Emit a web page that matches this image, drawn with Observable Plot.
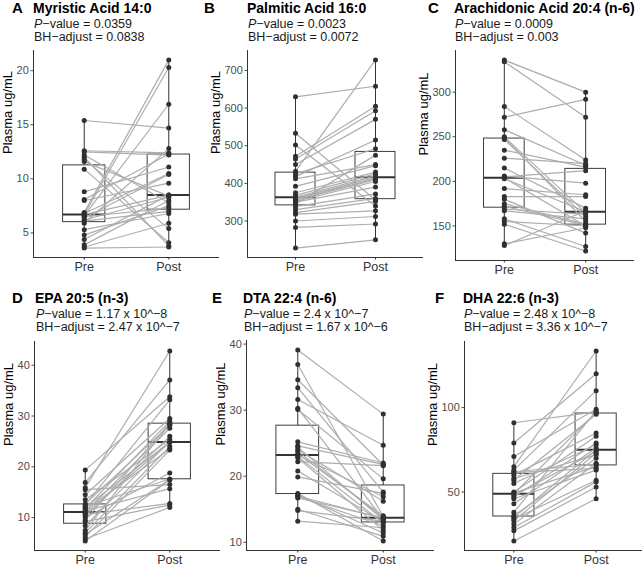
<!DOCTYPE html>
<html><head><meta charset="utf-8">
<script src="https://cdn.jsdelivr.net/npm/d3@7"></script>
<script src="https://cdn.jsdelivr.net/npm/@observablehq/plot@0.6"></script>
<style>
body{margin:0;background:#fff;}
#chart{position:relative;width:642px;height:568px;overflow:hidden;font-family:"Liberation Sans",Arial,Helvetica,sans-serif;color:#000;}
.txt{position:absolute;white-space:nowrap;line-height:1;}
.letter{font-weight:bold;font-size:15px;}
.title{font-weight:bold;font-size:14px;}
.sub{font-size:12.5px;color:#1a1a1a;}
.panel{position:absolute;}
.panel svg{max-width:none;background:transparent;overflow:visible;}
</style></head>
<body><div id="chart"></div>
<script>
// ---- Data ----
const groups = ["Pre", "Post"];
const panelLetters = ["A", "B", "C", "D", "E", "F"];
const panelTitles = ["Myristic Acid 14:0", "Palmitic Acid 16:0", "Arachidonic Acid 20:4 (n-6)",
                     "EPA 20:5 (n-3)", "DTA 22:4 (n-6)", "DHA 22:6 (n-3)"];
const pValues = ["0.0359", "0.0023", "0.0009", "1.17 x 10^\u22128", "2.4 x 10^\u22127", "2.48 x 10^\u22128"];
const bhValues = ["0.0838", "0.0072", "0.003", "2.47 x 10^\u22127", "1.67 x 10^\u22126", "3.36 x 10^\u22127"];
const yLabel = "Plasma ug/mL";

// paired values per subject (Pre[i] -> Post[i])
const myristicPre  = [15.4, 12.6, 12.5, 12.2, 12.0, 11.8, 11.6, 10.9, 8.8, 8.1, 8.0, 6.9, 6.8, 6.7, 6.7, 6.6, 6.5, 6.4, 6.2, 6.1, 5.9, 5.3, 4.8, 4.4, 3.9, 3.7, 3.6];
const myristicPost = [14.7, 12.4, 12.2, 7.8, 3.8, 5.4, 8.4, 4.1, 11.1, 12.3, 9.6, 21.0, 10.5, 20.3, 8.5, 16.9, 7.3, 10.4, 8.3, 7.0, 12.8, 6.8, 7.5, 8.5, 8.0, 5.9, 3.7];

const palmiticPre  = [630, 533, 502, 472, 465, 450, 432, 425, 418, 412, 392, 375, 368, 363, 360, 358, 355, 352, 350, 345, 338, 330, 322, 318, 300, 283, 228];
const palmiticPost = [658, 356, 340, 605, 593, 570, 728, 492, 515, 450, 447, 430, 425, 420, 416, 412, 410, 405, 390, 475, 372, 360, 352, 327, 312, 292, 250];

const arachidonicPre  = [336, 334, 284, 272, 258, 250, 249, 247, 235, 226, 215, 206, 205, 204, 203, 192, 183, 180, 175, 172, 169, 167, 158, 155, 152, 130, 128];
const arachidonicPost = [300, 272, 224, 292, 218, 165, 155, 160, 216, 220, 170, 198, 212, 150, 166, 185, 183, 142, 152, 151, 163, 158, 127, 150, 122, 148, 167];

const epaPre  = [19.4, 16.9, 15.9, 15.5, 14.5, 13.5, 12.7, 12.5, 12.2, 12.0, 11.8, 11.5, 11.3, 11.1, 10.8, 10.6, 10.3, 10.0, 9.5, 9.2, 8.4, 7.5, 7.0, 6.7, 6.2, 5.8, 5.4];
const epaPost = [33.8, 37.1, 42.8, 16.5, 29.5, 25.4, 28.2, 33.2, 17.6, 24.9, 29.0, 23.5, 15.7, 27.6, 24.8, 12.8, 26.0, 18.8, 28.6, 12.5, 25.0, 28.4, 24.0, 17.5, 23.3, 12.0, 17.4];

const dtaPre  = [39.1, 36.9, 34.6, 33.4, 31.6, 30.3, 30.1, 25.2, 24.6, 24.4, 24.0, 23.8, 23.4, 23.2, 23.0, 22.8, 22.2, 20.8, 19.9, 17.4, 17.2, 17.0, 16.9, 16.7, 15.0, 14.8, 13.2];
const dtaPost = [29.4, 13.9, 21.7, 17.6, 24.7, 13.5, 19.6, 22.0, 21.8, 13.4, 16.2, 13.7, 14.0, 16.9, 12.9, 11.8, 21.6, 13.1, 17.4, 10.2, 11.4, 13.6, 12.5, 13.7, 10.9, 13.2, 12.2];

const dhaPre  = [91, 79, 71, 65, 63, 62, 61.5, 60, 58, 57, 55, 50, 49.5, 49, 48, 47, 46, 43, 38, 36, 35, 34, 33, 31, 29, 27, 21];
const dhaPost = [97.5, 120, 99, 133.5, 110, 66.5, 64, 85, 72, 96, 78, 83, 65, 97, 74, 79, 63, 76, 98, 70, 75, 57, 73, 67, 56, 53, 46];

const yTicksA = [5, 10, 15, 20];
const yTicksB = [300, 400, 500, 600, 700];
const yTicksC = [150, 200, 250, 300];
const yTicksD = [10, 20, 30, 40];
const yTicksE = [10, 20, 30, 40];
const yTicksF = [50, 100];

// ---- Layout (frame edges in page px) ----
const layout = [
  {pre: myristicPre, post: myristicPost, ticks: yTicksA, L: 33, R: 219, T: 50, B: 257, row: 0, letterX: 12, titleX: 33},
  {pre: palmiticPre, post: palmiticPost, ticks: yTicksB, L: 247, R: 423, T: 50, B: 257, row: 0, letterX: 204, titleX: 247},
  {pre: arachidonicPre, post: arachidonicPost, ticks: yTicksC, L: 455, R: 634, T: 50, B: 260, row: 0, letterX: 428, titleX: 454},
  {pre: epaPre, post: epaPost, ticks: yTicksD, L: 34, R: 220, T: 341, B: 550, row: 1, letterX: 12, titleX: 35},
  {pre: dtaPre, post: dtaPost, ticks: yTicksE, L: 246, R: 434, T: 340, B: 550, row: 1, letterX: 212, titleX: 243},
  {pre: dhaPre, post: dhaPost, ticks: yTicksF, L: 464, R: 645, T: 341, B: 550, row: 1, letterX: 435, titleX: 463}
];

const chart = document.getElementById("chart");
const FONT = '"Liberation Sans",Arial,Helvetica,sans-serif';
const TICK_FONT = 11, TICK_LEN = 2.5, TICK_PAD = 2.2;

function addText(cls, x, baseline, size, html) {
  const d = document.createElement("div");
  d.className = "txt " + cls;
  d.style.left = x + "px";
  d.style.top = (baseline - 0.8465 * size) + "px";
  d.innerHTML = html;
  chart.appendChild(d);
}

layout.forEach((p, k) => {
  const rowOff = p.row === 0 ? 0 : 290;
  addText("letter", p.letterX, 13 + rowOff, 15, panelLetters[k]);
  addText("title", p.titleX, 13 + rowOff, 14, panelTitles[k]);
  addText("sub", p.titleX + 1, 28.5 + rowOff, 12.5, "<i>P</i>\u2212value = " + pValues[k]);
  addText("sub", p.titleX + 1, 42 + rowOff, 12.5, "BH\u2212adjust = " + bhValues[k]);

  const rows = p.pre.map((v, i) => ({pre: v, post: p.post[i]}));
  const pts = [...p.pre.map(v => ({g: 1, v})), ...p.post.map(v => ({g: 2, v}))];
  const all = p.pre.concat(p.post);
  const lo = d3.min(all), hi = d3.max(all), pad = (hi - lo) * 0.05;
  const ydom = [lo - pad, hi + pad];
  const stats = [p.pre, p.post].map((arr, i) => ({
    g: i + 1,
    q1: d3.quantile(arr, 0.25), med: d3.median(arr), q3: d3.quantile(arr, 0.75),
    min: d3.min(arr), max: d3.max(arr)
  }));
  // y-title sits left of the widest tick label (digit width ~0.556em)
  const maxTickW = d3.max(p.ticks, t => String(t).length) * 0.556 * TICK_FONT;
  const labelDx = -(TICK_LEN + TICK_PAD + maxTickW + 9);
  const mL = 40, mR = 0, mT = 4, mB = 18;
  const svg = Plot.plot({
    width: p.R - p.L + mL + mR,
    height: p.B - p.T + mT + mB,
    marginLeft: mL, marginRight: mR, marginTop: mT, marginBottom: mB,
    x: {domain: [0.4, 2.6]},
    y: {domain: ydom},
    style: {fontFamily: FONT, fontSize: "11px", color: "#4d4d4d", background: "transparent", overflow: "visible"},
    marks: [
      Plot.ruleX(stats, {x: "g", y1: "min", y2: "max", stroke: "#333", strokeWidth: 1}),
      Plot.rect(stats, {x1: d => d.g - 0.25, x2: d => d.g + 0.25, y1: "q1", y2: "q3", fill: "white", stroke: "#3d3d3d", strokeWidth: 1}),
      Plot.ruleY(stats, {y: "med", x1: d => d.g - 0.25, x2: d => d.g + 0.25, stroke: "#333", strokeWidth: 2}),
      Plot.link(rows, {x1: () => 1, y1: "pre", x2: () => 2, y2: "post", stroke: "#adadad", strokeWidth: 1.2}),
      Plot.dot(pts, {x: "g", y: "v", r: 2.5, fill: "#303030", stroke: "none"}),
      Plot.axisY({ticks: p.ticks, tickSize: TICK_LEN, tickPadding: TICK_PAD, label: null, fontSize: TICK_FONT, color: "#4d4d4d"}),
      Plot.axisX({ticks: [1, 2], tickFormat: d => groups[d - 1], tickSize: TICK_LEN, tickPadding: TICK_PAD, label: null, fontSize: 12.5, color: "#333"}),
      Plot.ruleX([0.4], {stroke: "#333", strokeWidth: 1}),
      Plot.ruleY([ydom[0]], {stroke: "#333", strokeWidth: 1}),
      Plot.text([yLabel], {frameAnchor: "left", dx: labelDx, rotate: -90, fontSize: 13, fill: "#000"})
    ]
  });
  const wrap = document.createElement("div");
  wrap.className = "panel";
  wrap.style.left = (p.L - mL) + "px";
  wrap.style.top = (p.T - mT) + "px";
  wrap.appendChild(svg);
  chart.appendChild(wrap);
});
</script>
</body></html>
